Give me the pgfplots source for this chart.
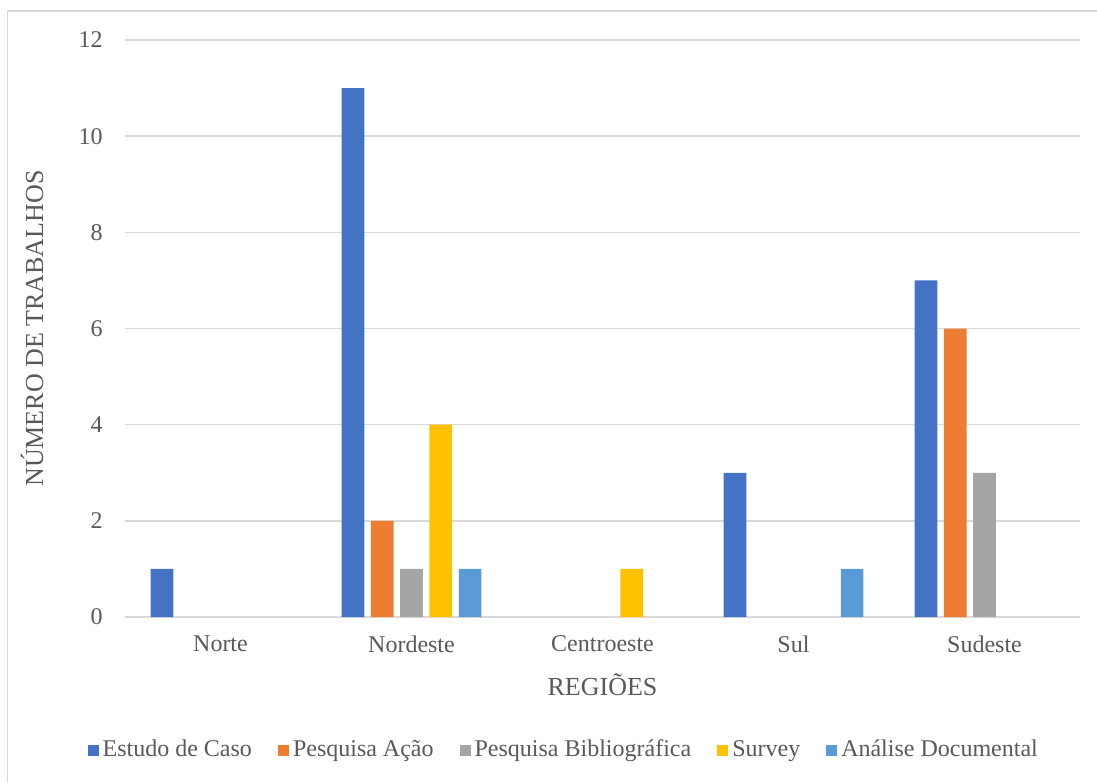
\documentclass[border=0pt]{standalone}
\usepackage{pgfplots}
\pgfplotsset{compat=1.18}
\usepackage{fontspec}
\setmainfont{Liberation Serif}
\definecolor{c1}{HTML}{4472C4}
\definecolor{c2}{HTML}{ED7D31}
\definecolor{c3}{HTML}{A5A5A5}
\definecolor{c4}{HTML}{FFC000}
\definecolor{c5}{HTML}{5B9BD5}
\definecolor{txt}{HTML}{595959}
\definecolor{grd}{HTML}{D9D9D9}
\begin{document}
\begin{tikzpicture}
\useasboundingbox (0,0) rectangle (548.5pt,391pt);
\draw[grd, line width=0.75pt] (3.75pt,0) -- (3.75pt,385.5pt) -- (548.5pt,385.5pt);
\begin{axis}[
  at={(62.5pt,82.5pt)}, anchor=south west,
  scale only axis, width=477.5pt, height=288.5pt,
  ybar, bar width=11.35pt,
  xmin=-0.5, xmax=4.5, ymin=0, ymax=12,
  xtick={0,1,2,3,4},
  xticklabels={Norte,Nordeste,Centroeste,Sul,Sudeste},
  ytick={0,2,4,6,8,10,12},
  yticklabels={0,2,4,6,8,10,12},
  major tick length=0pt,
  axis line style={draw=none},
  ymajorgrids, grid style={grd, line width=0.75pt},
  ticklabel style={font=\fontsize{12}{14}\selectfont, text=txt},
  xticklabel style={anchor=north, inner sep=0pt, yshift=-9pt},
  yticklabel style={anchor=east, inner sep=0pt, xshift=-11pt},
  xlabel={REGIÕES}, ylabel={NÚMERO DE TRABALHOS},
  label style={font=\fontsize{13}{15}\selectfont, text=txt},
  xlabel style={at={(axis description cs:0.5,-0.118)}, anchor=center},
  ylabel style={at={(axis description cs:-0.0974,0.5)}, anchor=center},
  legend columns=5,
  legend style={at={(0.4605,-0.2305)}, anchor=center, draw=none, fill=none,
    font=\fontsize{12}{14}\selectfont, text=txt,
    /tikz/every even column/.append style={column sep=11pt}},
  legend image code/.code={\fill[#1] (0pt,-2.75pt) rectangle (5.5pt,2.75pt);},
  clip=false,
]
\addplot[fill=c1, draw=none, bar shift=-29.3pt] coordinates {(0,1) (1,11) (3,3) (4,7)};
\addplot[fill=c2, draw=none, bar shift=-14.65pt] coordinates {(1,2) (4,6)};
\addplot[fill=c3, draw=none, bar shift=0pt] coordinates {(1,1) (4,3)};
\addplot[fill=c4, draw=none, bar shift=14.65pt] coordinates {(1,4) (2,1)};
\addplot[fill=c5, draw=none, bar shift=29.3pt] coordinates {(1,1) (3,1)};
\legend{Estudo de Caso, Pesquisa Ação, Pesquisa Bibliográfica, Survey, Análise Documental}
\end{axis}
\end{tikzpicture}
\end{document}
